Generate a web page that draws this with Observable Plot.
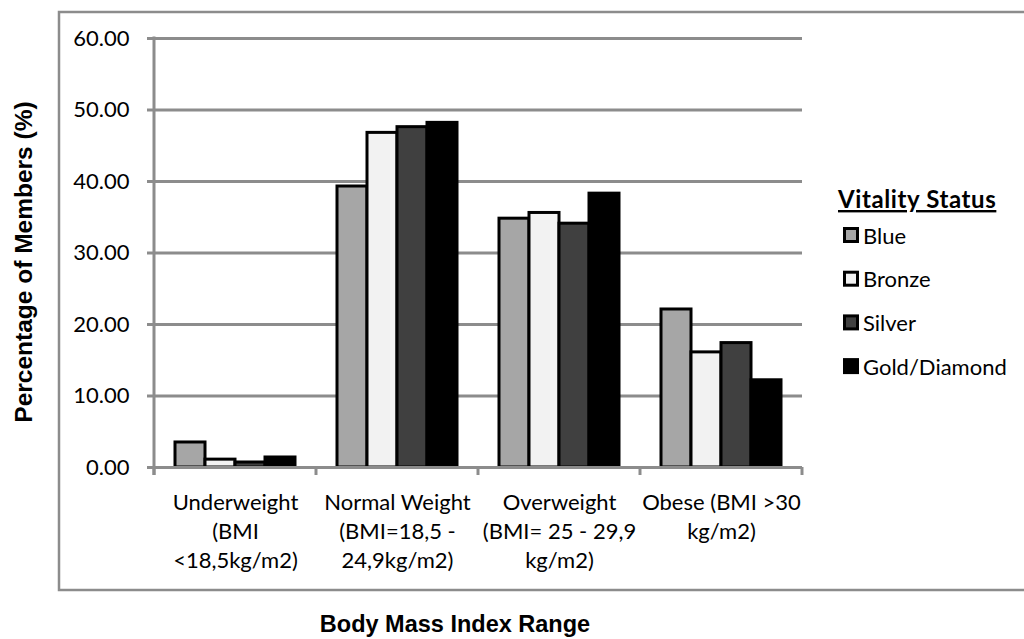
<!DOCTYPE html>
<html>
<head>
<meta charset="utf-8">
<script src="https://cdn.jsdelivr.net/npm/d3@7"></script>
<script src="https://cdn.jsdelivr.net/npm/@observablehq/plot@0.6"></script>
<style>
  html, body { margin: 0; padding: 0; background: #fff; }
  #chart { position: relative; width: 1024px; height: 639px; overflow: hidden; }
</style>
</head>
<body>
<div id="chart"></div>
<script>
// BMI categories (x groups) and their wrapped tick labels
const categories = ["Underweight", "Normal Weight", "Overweight", "Obese"];
const categoryLabels = [
  "Underweight\n(BMI\n<18,5kg/m2)",
  "Normal Weight\n(BMI=18,5 -\n24,9kg/m2)",
  "Overweight\n(BMI= 25 - 29,9\nkg/m2)",
  "Obese (BMI >30\nkg/m2)"
];

// Vitality status series
const statuses = ["Blue", "Bronze", "Silver", "Gold/Diamond"];
const statusColors = ["#a6a6a6", "#f2f2f2", "#404040", "#000000"];

// Percentage of members per BMI category, one array per status
const blueValues   = [3.5, 39.3, 34.8, 22.1];
const bronzeValues = [1.1, 46.8, 35.6, 16.1];
const silverValues = [0.7, 47.6, 34.1, 17.4];
const goldValues   = [1.4, 48.2, 38.3, 12.2];

const yTicks = [0, 10, 20, 30, 40, 50, 60];

const seriesValues = [blueValues, bronzeValues, silverValues, goldValues];
const rows = categories.flatMap((category, i) =>
  statuses.map((status, j) => ({ category, status, value: seriesValues[j][i] }))
);
const labelOf = new Map(categories.map((c, i) => [c, categoryLabels[i]]));

const gridColor = "#8c8c8c";
const textFont = "Lato, 'Open Sans', sans-serif";
const titleFont = "'Liberation Sans', Arial, sans-serif";

const plot = Plot.plot({
  width: 1024,
  height: 639,
  marginLeft: 153,
  marginRight: 221,
  marginTop: 38,
  marginBottom: 172,
  style: { fontFamily: textFont, fontSize: "22px", color: "#000", background: "transparent", overflow: "visible" },
  fx: { domain: categories, padding: 0, label: null, axis: null },
  x: { domain: statuses, paddingInner: 0, paddingOuter: 0.69, axis: null },
  y: { domain: [0, 60], label: null },
  color: { domain: statuses, range: statusColors },
  marks: [
    Plot.gridY(yTicks, { stroke: gridColor, strokeOpacity: 1, strokeWidth: 3 }),
    Plot.barY(rows, { fx: "category", x: "status", y: "value", fill: "status", stroke: "#000", strokeWidth: 3 }),
    Plot.ruleY([0], { stroke: gridColor, strokeWidth: 3 }),
    Plot.axisY(yTicks, {
      tickSize: 7, tickPadding: 18, tickFormat: d => d.toFixed(2),
      stroke: gridColor, strokeWidth: 3, fill: "#000", fontSize: 22, label: null
    }),
    Plot.axisFx({
      anchor: "bottom",
      tickSize: 0, tickPadding: 22, tickFormat: c => labelOf.get(c),
      lineHeight: 1.32, fontSize: 22, fill: "#000", label: null
    })
  ]
});

document.getElementById("chart").appendChild(plot);

// Chart furniture drawn from Plot's own scales: axis spine, category separators,
// outer border, axis titles and the legend.
const svg = d3.select(plot);
const fx = plot.scale("fx");
const y = plot.scale("y");
const y0 = y.apply(0);
const yTop = y.apply(60);
const left = fx.apply(categories[0]);
const bounds = categories.map(c => fx.apply(c)).concat([fx.apply(categories[categories.length - 1]) + fx.bandwidth]);

const deco = svg.append("g").attr("text-anchor", "start");
deco.append("rect")
  .attr("x", 59).attr("y", 12).attr("width", 980).attr("height", 578)
  .attr("fill", "none").attr("stroke", gridColor).attr("stroke-width", 2.5);

deco.append("line")
  .attr("x1", left).attr("x2", left).attr("y1", yTop - 1.5).attr("y2", y0 + 8)
  .attr("stroke", gridColor).attr("stroke-width", 3);

bounds.forEach(bx => {
  deco.append("line")
    .attr("x1", bx).attr("x2", bx).attr("y1", y0).attr("y2", y0 + 8)
    .attr("stroke", gridColor).attr("stroke-width", 3);
});

deco.append("text")
  .attr("transform", `translate(23, 262) rotate(-90)`)
  .attr("text-anchor", "middle").attr("dominant-baseline", "central")
  .attr("font-family", titleFont).attr("font-weight", "bold").attr("font-size", 24.5)
  .attr("fill", "#000")
  .text("Percentage of Members (%)");

deco.append("text")
  .attr("x", 455).attr("y", 632)
  .attr("text-anchor", "middle")
  .attr("font-family", titleFont).attr("font-weight", "bold").attr("font-size", 23.5)
  .attr("fill", "#000")
  .text("Body Mass Index Range");

// Legend
const legend = deco.append("g").attr("transform", "translate(838, 0)");
legend.append("text")
  .attr("x", 0).attr("y", 208).attr("text-anchor", "start")
  .attr("font-family", textFont).attr("font-weight", "bold").attr("font-size", 24)
  .attr("letter-spacing", 0.6)
  .attr("text-decoration", "underline")
  .attr("fill", "#000")
  .text("Vitality Status");

statuses.forEach((s, i) => {
  const cy = 235 + i * 43.7;
  legend.append("rect")
    .attr("x", 6.5).attr("y", cy - 6.5).attr("width", 13).attr("height", 13)
    .attr("fill", statusColors[i]).attr("stroke", "#000").attr("stroke-width", 3);
  legend.append("text")
    .attr("x", 25).attr("y", cy).attr("dominant-baseline", "central").attr("text-anchor", "start")
    .attr("font-family", textFont).attr("font-size", 22).attr("fill", "#000")
    .text(s);
});
</script>
</body>
</html>
